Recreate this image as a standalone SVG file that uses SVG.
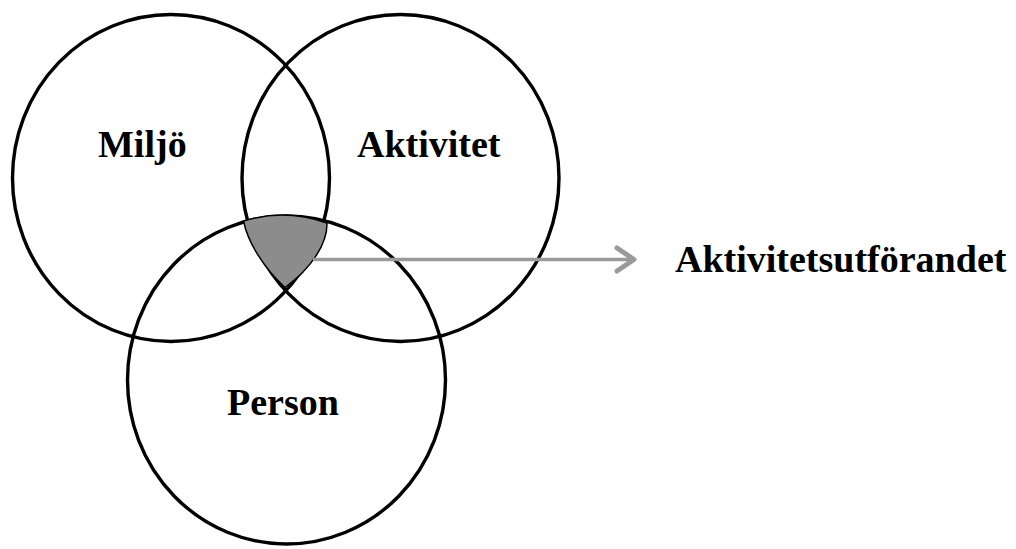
<svg xmlns="http://www.w3.org/2000/svg" width="1016" height="549" viewBox="0 0 1016 549">
  <style>
    .ring { fill: none; stroke: #000; stroke-width: 3.4; }
    .lbl { font-family: "Liberation Serif", "Times New Roman", serif; font-weight: bold; font-size: 38px; fill: #000; }
    .conn { stroke: #9a9a9a; stroke-width: 3.5; fill: none; }
  </style>
  <defs>
    <marker id="chev" markerUnits="userSpaceOnUse" markerWidth="40" markerHeight="40" viewBox="-25 -20 40 40" refX="0" refY="0" orient="auto" overflow="visible">
      <path d="M-17,-11.5 L0,0 L-17,11.5" fill="none" stroke="#9a9a9a" stroke-width="5" stroke-linejoin="round" stroke-linecap="round"/>
    </marker>
  </defs>
  <rect width="1016" height="549" fill="#fff"/>
  <g id="miljo">
    <ellipse class="ring" cx="171" cy="178" rx="158.5" ry="163.5"/>
    <text class="lbl" x="98" y="157">Miljö</text>
  </g>
  <g id="aktivitet">
    <ellipse class="ring" cx="400.5" cy="178" rx="158.5" ry="163.5"/>
    <text class="lbl" x="357" y="157">Aktivitet</text>
  </g>
  <g id="person">
    <ellipse class="ring" cx="286.5" cy="380" rx="159" ry="164"/>
    <text class="lbl" x="227" y="415">Person</text>
  </g>
  <g id="intersection">
    <path d="M243.5,221 Q285,208 327,223 C327.5,243 312,268 285,287.5 C264,268 248,243 243.5,221 Z" fill="#8c8c8c" stroke="#000" stroke-width="1.5"/>
  </g>
  <g id="connectors">
    <line class="conn" x1="313" y1="259.5" x2="634" y2="259.5" marker-end="url(#chev)"/>
  </g>
  <g id="aktivitetsutforandet">
    <text class="lbl" x="675" y="272">Aktivitetsutförandet</text>
  </g>
</svg>
